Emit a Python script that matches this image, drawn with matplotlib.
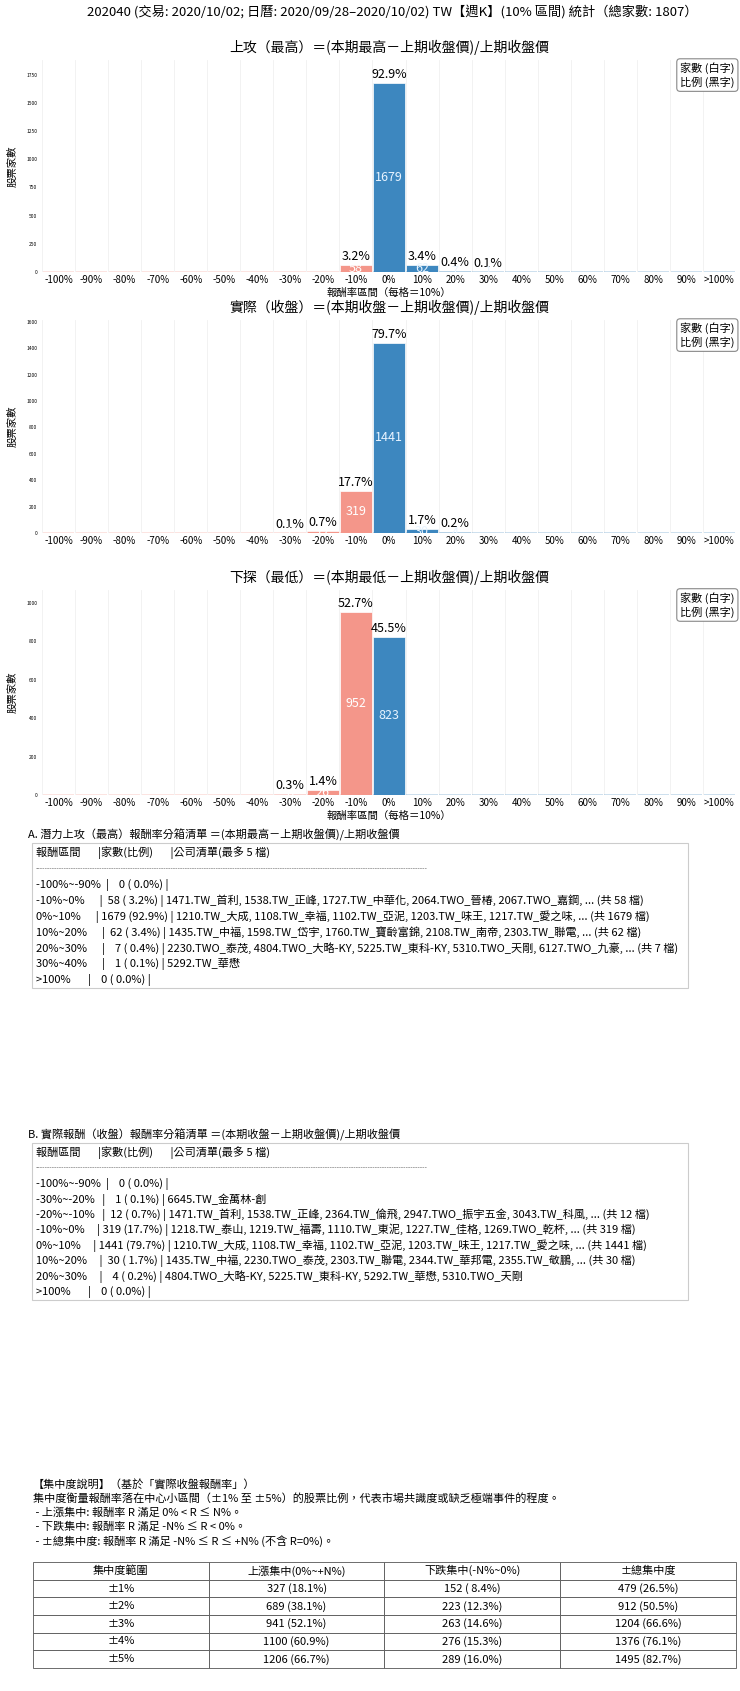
import matplotlib
matplotlib.use("Agg")
import matplotlib.pyplot as plt
from matplotlib.patches import Rectangle

plt.rcParams["font.family"] = ["Noto Sans CJK TC", "DejaVu Sans"]

W, H = 740, 1691
TOTAL = 1807

bins = ["-100%", "-90%", "-80%", "-70%", "-60%", "-50%", "-40%", "-30%", "-20%", "-10%",
        "0%", "10%", "20%", "30%", "40%", "50%", "60%", "70%", "80%", "90%", ">100%"]
high_counts = [0, 0, 0, 0, 0, 0, 0, 0, 0, 58, 1679, 62, 7, 1, 0, 0, 0, 0, 0, 0, 0]
close_counts = [0, 0, 0, 0, 0, 0, 0, 1, 12, 319, 1441, 30, 4, 0, 0, 0, 0, 0, 0, 0, 0]
low_counts = [0, 0, 0, 0, 0, 0, 0, 6, 26, 952, 823, 0, 0, 0, 0, 0, 0, 0, 0, 0, 0]

titles = ["上攻（最高）＝(本期最高－上期收盤價)/上期收盤價",
          "實際（收盤）＝(本期收盤－上期收盤價)/上期收盤價",
          "下探（最低）＝(本期最低－上期收盤價)/上期收盤價"]

box_a_title = "A. 潛力上攻（最高）報酬率分箱清單 ＝(本期最高－上期收盤價)/上期收盤價"
box_a_lines = [
    "報酬區間       |家數(比例)       |公司清單(最多 5 檔)",
    "-" * 130,
    "-100%~-90%  |    0 ( 0.0%) |",
    "-10%~0%      |  58 ( 3.2%) | 1471.TW_首利, 1538.TW_正峰, 1727.TW_中華化, 2064.TWO_晉椿, 2067.TWO_嘉鋼, ... (共 58 檔)",
    "0%~10%      | 1679 (92.9%) | 1210.TW_大成, 1108.TW_幸福, 1102.TW_亞泥, 1203.TW_味王, 1217.TW_愛之味, ... (共 1679 檔)",
    "10%~20%      |  62 ( 3.4%) | 1435.TW_中福, 1598.TW_岱宇, 1760.TW_寶齡富錦, 2108.TW_南帝, 2303.TW_聯電, ... (共 62 檔)",
    "20%~30%      |    7 ( 0.4%) | 2230.TWO_泰茂, 4804.TWO_大略-KY, 5225.TW_東科-KY, 5310.TWO_天剛, 6127.TWO_九豪, ... (共 7 檔)",
    "30%~40%      |    1 ( 0.1%) | 5292.TW_華懋",
    ">100%       |    0 ( 0.0%) |",
]
box_b_title = "B. 實際報酬（收盤）報酬率分箱清單 ＝(本期收盤－上期收盤價)/上期收盤價"
box_b_lines = [
    "報酬區間       |家數(比例)       |公司清單(最多 5 檔)",
    "-" * 130,
    "-100%~-90%  |    0 ( 0.0%) |",
    "-30%~-20%   |    1 ( 0.1%) | 6645.TW_金萬林-創",
    "-20%~-10%   |  12 ( 0.7%) | 1471.TW_首利, 1538.TW_正峰, 2364.TW_倫飛, 2947.TWO_振宇五金, 3043.TW_科風, ... (共 12 檔)",
    "-10%~0%     | 319 (17.7%) | 1218.TW_泰山, 1219.TW_福壽, 1110.TW_東泥, 1227.TW_佳格, 1269.TWO_乾杯, ... (共 319 檔)",
    "0%~10%     | 1441 (79.7%) | 1210.TW_大成, 1108.TW_幸福, 1102.TW_亞泥, 1203.TW_味王, 1217.TW_愛之味, ... (共 1441 檔)",
    "10%~20%     |  30 ( 1.7%) | 1435.TW_中福, 2230.TWO_泰茂, 2303.TW_聯電, 2344.TW_華邦電, 2355.TW_敬鵬, ... (共 30 檔)",
    "20%~30%     |    4 ( 0.2%) | 4804.TWO_大略-KY, 5225.TW_東科-KY, 5292.TW_華懋, 5310.TWO_天剛",
    ">100%       |    0 ( 0.0%) |",
]
conc_lines = [
    "【集中度說明】（基於「實際收盤報酬率」）",
    "集中度衡量報酬率落在中心小區間（±1% 至 ±5%）的股票比例，代表市場共識度或缺乏極端事件的程度。",
    " - 上漲集中: 報酬率 R 滿足 0% < R ≤ N%。",
    " - 下跌集中: 報酬率 R 滿足 -N% ≤ R < 0%。",
    " - ±總集中度: 報酬率 R 滿足 -N% ≤ R ≤ +N% (不含 R=0%)。",
]
table_header = ["集中度範圍", "上漲集中(0%~+N%)", "下跌集中(-N%~0%)", "±總集中度"]
table_rows = [
    ["±1%", "327 (18.1%)", "152 ( 8.4%)", "479 (26.5%)"],
    ["±2%", "689 (38.1%)", "223 (12.3%)", "912 (50.5%)"],
    ["±3%", "941 (52.1%)", "263 (14.6%)", "1204 (66.6%)"],
    ["±4%", "1100 (60.9%)", "276 (15.3%)", "1376 (76.1%)"],
    ["±5%", "1206 (66.7%)", "289 (16.0%)", "1495 (82.7%)"],
]

NEG = "#f4968a"
POS = "#3d87bf"


def rect(x0, y0, x1, y1):
    return [x0 / W, 1 - y1 / H, (x1 - x0) / W, (y1 - y0) / H]


fig = plt.figure(figsize=(W / 100, H / 100), dpi=100)
fig.text(0.53, 1 - 12 / H,
         "202040 (交易: 2020/10/02; 日曆: 2020/09/28–2020/10/02) TW【週K】(10% 區間) 統計（總家數: 1807）",
         ha="center", va="center", fontsize=9.5)

panels = [(high_counts, 60, 272, True), (close_counts, 320, 533, False), (low_counts, 590, 795, True)]
for k, (counts, top, bottom, show_xlabel) in enumerate(panels):
    ax = fig.add_axes(rect(42, top, 736, bottom))
    x = list(range(len(bins)))
    colors = [NEG if i < 10 else POS for i in x]
    ymax = max(counts) * 1.12
    ax.bar(x, counts, width=0.96, color=colors, edgecolor="white", linewidth=0.5)
    ax.bar(x, [ymax * 0.006] * len(x), width=0.96, color=colors, alpha=0.25, linewidth=0)
    for i, c in enumerate(counts):
        if c > 0:
            ax.text(i, c + ymax * 0.01, f"{c / TOTAL * 100:.1f}%", ha="center", va="bottom", fontsize=9)
            ax.text(i, c / 2, str(c), ha="center", va="center", fontsize=9,
                    color="white" if i < 10 else "#e8f4ff", clip_on=True)
    ax.set_xlim(-0.5, len(bins) - 0.5)
    ax.set_ylim(0, ymax)
    ax.set_xticks(x)
    ax.set_xticklabels(bins, fontsize=7)
    ax.tick_params(axis="y", labelsize=3.5, length=0)
    ax.tick_params(axis="x", length=0, pad=2)
    for i in range(len(bins) + 1):
        ax.axvline(i - 0.5, color="#f0f0f0", lw=0.6, zorder=0)
    for s in ax.spines.values():
        s.set_visible(False)
    ax.set_title(titles[k], fontsize=10, pad=6)
    ax.set_ylabel("股票家數", fontsize=7.5, labelpad=6)
    if show_xlabel:
        ax.set_xlabel("報酬率區間（每格＝10%）", fontsize=7.5, labelpad=2)
    ax.text(0.998, 0.99, "家數 (白字)\n比例 (黑字)", transform=ax.transAxes, ha="right", va="top",
            fontsize=8, linespacing=1.3,
            bbox=dict(boxstyle="round,pad=0.3", fc="white", ec="#888888", lw=0.8))


def text_box(title, lines, y_title, y_top, y_bottom):
    fig.text(28 / W, 1 - y_title / H, title, fontsize=8, va="center")
    fig.patches.append(Rectangle((32 / W, 1 - y_bottom / H), (688 - 32) / W, (y_bottom - y_top) / H,
                                 transform=fig.transFigure, fc="white", ec="#cccccc", lw=0.8))
    step = (y_bottom - y_top - 18) / (len(lines) - 1)
    for j, line in enumerate(lines):
        if line.startswith("---"):
            fig.text(36 / W, 1 - (y_top + 10 + j * step) / H, "-" * 165, fontsize=5, va="center",
                     color="#555555")
        else:
            fig.text(36 / W, 1 - (y_top + 10 + j * step) / H, line, fontsize=8, va="center")


text_box(box_a_title, box_a_lines, 835, 843, 988)
text_box(box_b_title, box_b_lines, 1135, 1143, 1300)

for j, line in enumerate(conc_lines):
    fig.text(33 / W, 1 - (1485 + j * 14) / H, line, fontsize=8, va="center")

tax = fig.add_axes(rect(33, 1562, 736, 1668))
tax.axis("off")
tbl = tax.table(cellText=table_rows, colLabels=table_header, loc="center", cellLoc="center",
                bbox=[0, 0, 1, 1])
tbl.auto_set_font_size(False)
tbl.set_fontsize(8)
for cell in tbl.get_celld().values():
    cell.set_edgecolor("#555555")
    cell.set_linewidth(0.6)

fig.savefig("out.png", dpi=100)
